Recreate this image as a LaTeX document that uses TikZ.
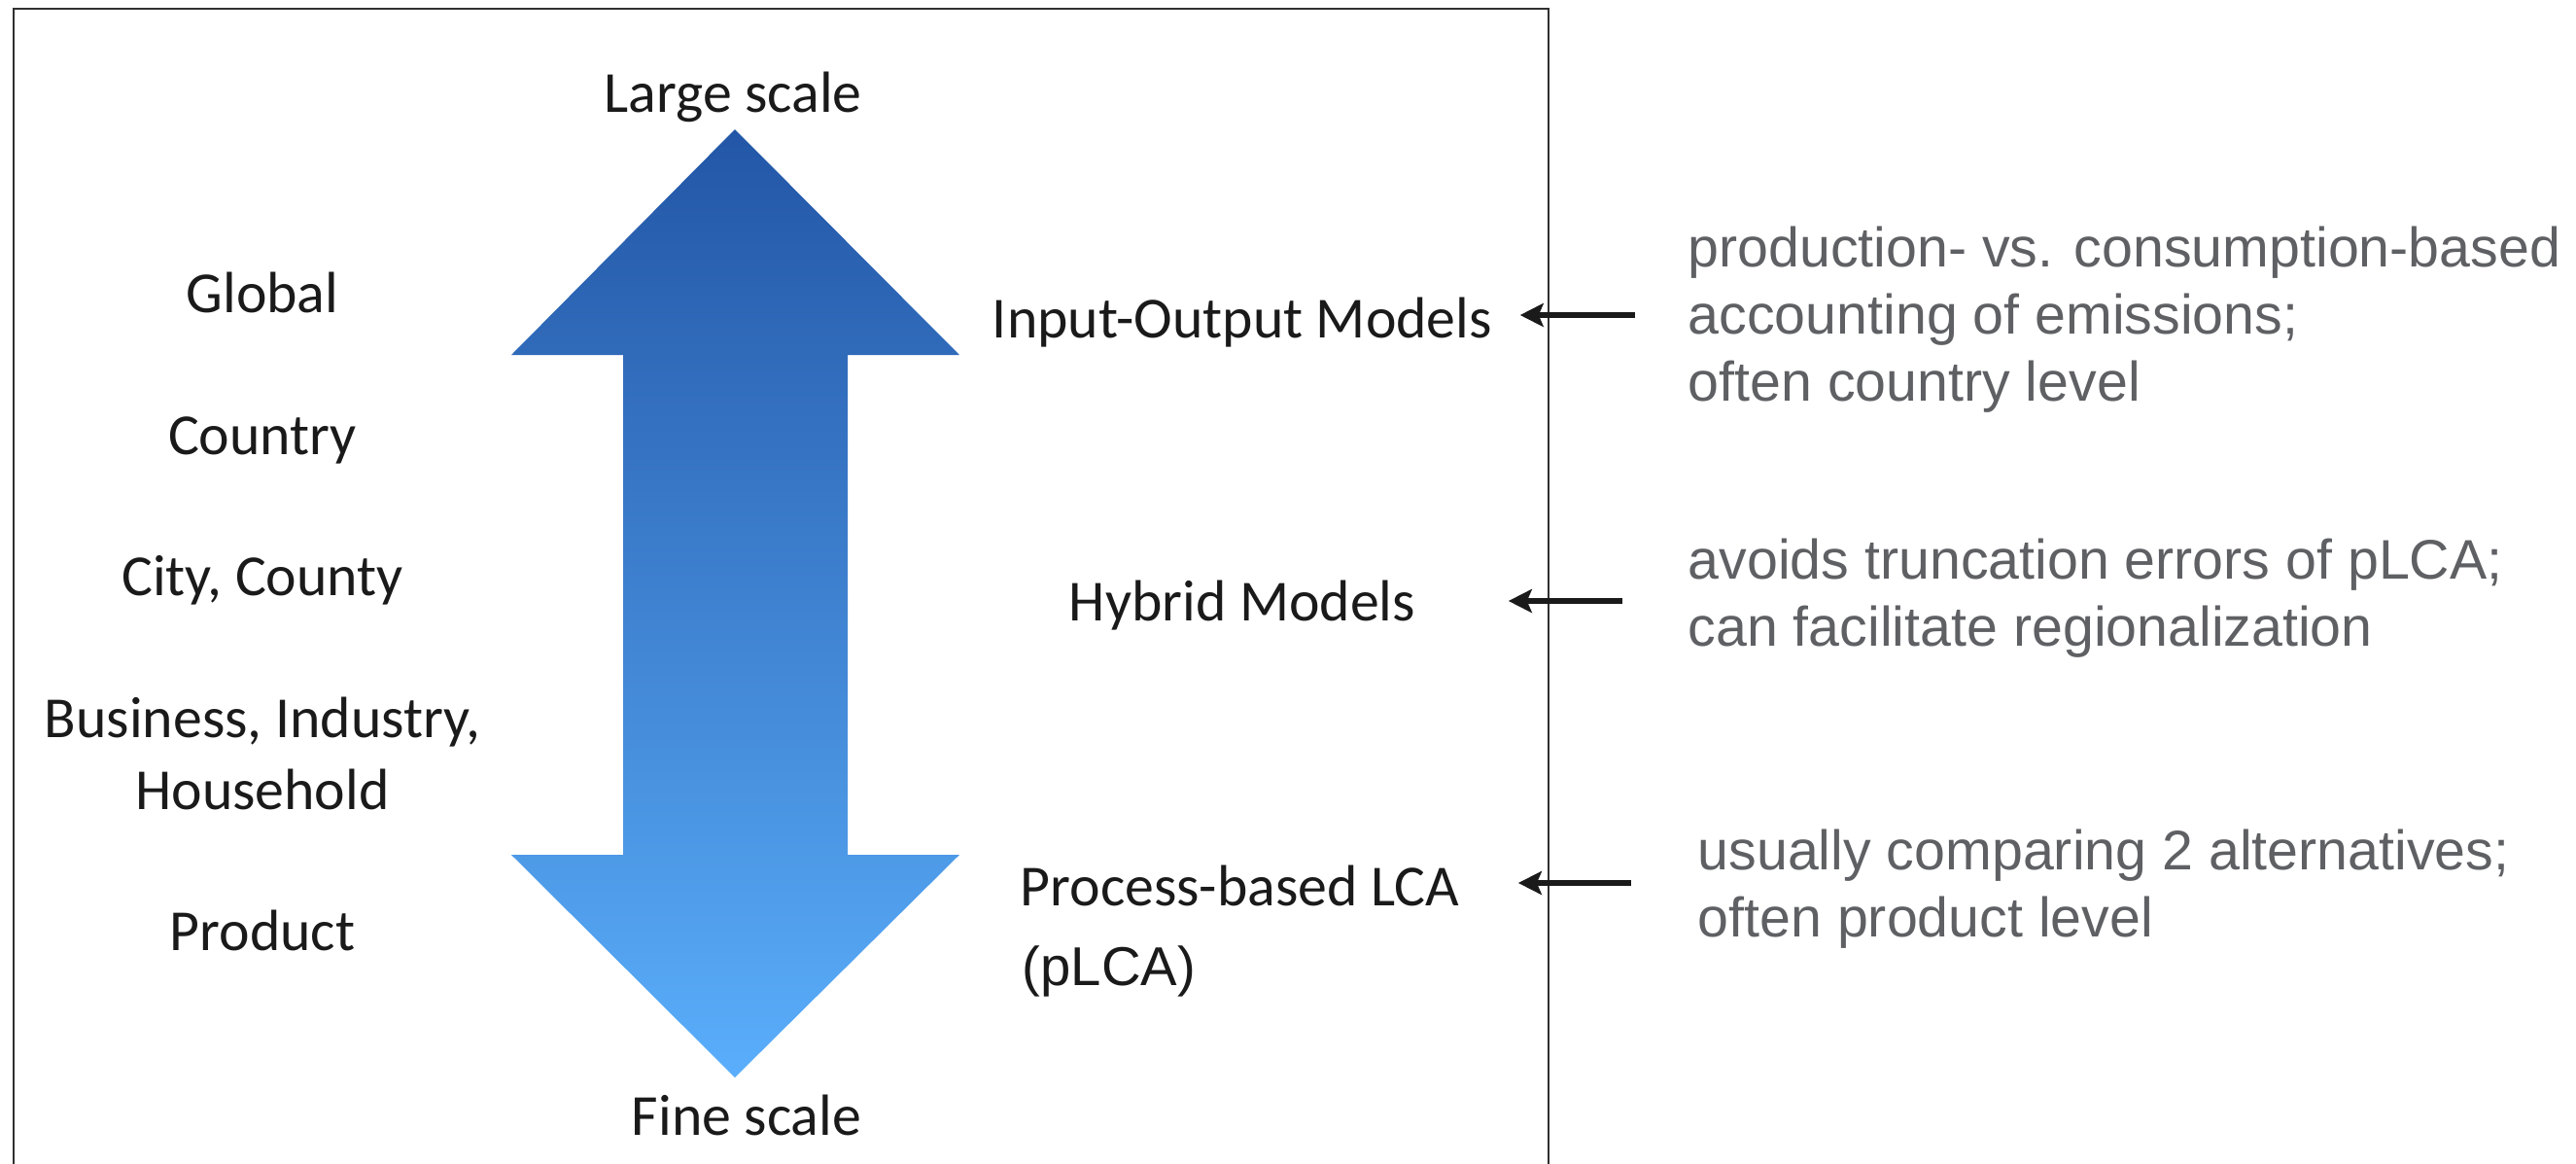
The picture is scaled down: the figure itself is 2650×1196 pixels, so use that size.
\documentclass[tikz,border=0pt]{standalone}
\usepackage{fontspec}
\setmainfont{Carlito}
\newfontfamily\arialfont{Liberation Sans}
\usetikzlibrary{arrows.meta}

\definecolor{frameline}{HTML}{303030}
\definecolor{arrowtop}{HTML}{2356A6}
\definecolor{arrowmid}{HTML}{3A80DA}
\definecolor{arrowbot}{HTML}{5AAEFB}
\definecolor{notegray}{HTML}{5F6064}
\definecolor{labelink}{HTML}{1A1A1A}
\definecolor{pointer}{HTML}{1A1A1A}

\tikzset{
  scalelabel/.style={font=\fontsize{17pt}{21pt}\selectfont, text=labelink,
    inner sep=0pt, anchor=base, align=center},
  methodlabel/.style={font=\fontsize{17pt}{21pt}\selectfont, text=labelink,
    inner sep=0pt, anchor=base},
  notetext/.style={font=\arialfont\fontsize{16.3pt}{19.6pt}\selectfont, text=notegray,
    inner sep=0pt, anchor=base west, align=left},
  pointerline/.style={draw=pointer, line width=0.055cm,
    -{Stealth[length=0.24cm, width=0.24cm, inset=0.05cm]}},
}

\begin{document}
\begin{tikzpicture}[x=0.01cm, y=-0.01cm]
  \useasboundingbox (0,0) rectangle (2650,1196);

  % open frame around the scale chart
  \draw[frameline, line width=0.45pt] (14,1200) -- (14,9) -- (1593,9) -- (1593,1200);

  % double-headed scale arrow
  \shade[top color=arrowtop, middle color=arrowmid, bottom color=arrowbot]
    (756,133) -- (987,365) -- (872,365) -- (872,879) -- (987,879) -- (756,1108)
    -- (526,879) -- (641,879) -- (641,365) -- (526,365) -- cycle;

  \node[scalelabel] (large) at (754,115) {Large scale};
  \node[scalelabel] (fine)  at (768,1167) {Fine scale};

  % spatial levels (multi-line nodes sit on the baseline of their last line)
  \node[scalelabel] (global)   at (270,321) {Global};
  \node[scalelabel] (country)  at (270,467) {Country};
  \node[scalelabel] (city)     at (270,612) {City, County};
  \node[scalelabel] (business) at (270,832) {Business, Industry,\\Household};
  \node[scalelabel] (product)  at (270,977) {Product};

  % model families
  \node[methodlabel] (io)     at (1278,347) {Input-Output Models};
  \node[methodlabel] (hybrid) at (1278,638) {Hybrid Models};
  \node[methodlabel, anchor=base west] (plca) at (1049,931) {Process-based LCA};
  \node[anchor=base west, inner sep=0pt, text=labelink,
        font=\arialfont\fontsize{16pt}{19pt}\selectfont] (plcaabbr) at (1051,1013) {(pLCA)};

  % descriptions
  \node[notetext] (noteio) at (1736,412)
    {production- vs. consumption-based\\accounting of emissions;\\often country level};
  \node[notetext] (notehybrid) at (1736,664)
    {avoids truncation errors of pLCA;\\can facilitate regionalization};
  \node[notetext] (noteplca) at (1746,963)
    {usually comparing 2 alternatives;\\often product level};

  % pointers from descriptions to model families
  \coordinate (tailio)     at (1682,324);
  \coordinate (tailhybrid) at (1669,618);
  \coordinate (tailplca)   at (1678,908);
  \draw[pointerline, shorten >=0.28cm] (tailio) -- (tailio -| io.east);
  \draw[pointerline, shorten >=0.95cm] (tailhybrid) -- (tailhybrid -| hybrid.east);
  \draw[pointerline, shorten >=0.60cm] (tailplca) -- (tailplca -| plca.east);
\end{tikzpicture}
\end{document}
